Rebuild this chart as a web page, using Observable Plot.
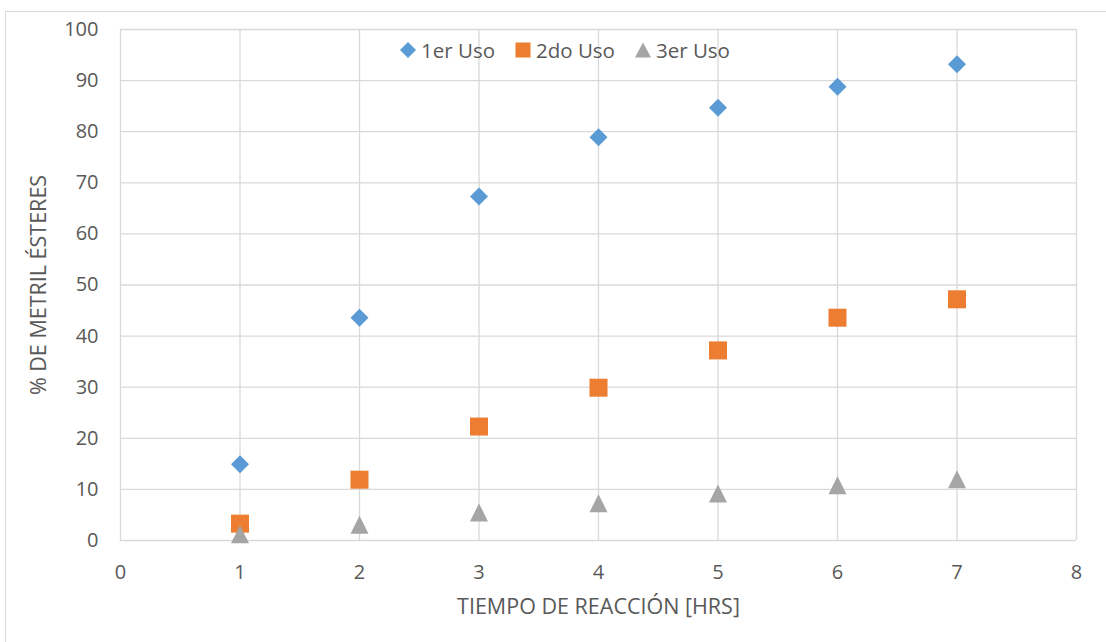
<!DOCTYPE html>
<html><head><meta charset="utf-8">
<script src="https://cdn.jsdelivr.net/npm/d3@7"></script>
<script src="https://cdn.jsdelivr.net/npm/@observablehq/plot@0.6"></script>
<style>
html,body{margin:0;padding:0;background:#fff;}
#wrap{position:relative;width:1106px;height:642px;overflow:hidden;font-family:"Open Sans",sans-serif;}
#border{position:absolute;left:5px;top:11px;width:1120px;height:660px;border:1px solid #d9d9d9;box-sizing:border-box;}
#legend{position:absolute;top:36px;left:400px;display:flex;align-items:center;font-size:20.5px;color:#595959;line-height:28px;}
#legend .item{display:flex;align-items:center;margin-right:20px;}
#legend svg{margin-right:5px;display:block;}
</style></head>
<body><div id="wrap"><div id="border"></div><div id="chart"></div><div id="legend"></div></div>
<script>
const hours = [1, 2, 3, 4, 5, 6, 7];
const uso1 = [14.9, 43.6, 67.3, 78.9, 84.7, 88.8, 93.2];
const uso2 = [3.3, 11.9, 22.3, 29.9, 37.2, 43.6, 47.2];
const uso3 = [1.2, 3.1, 5.5, 7.3, 9.2, 10.8, 12.0];
const seriesNames = ["1er Uso", "2do Uso", "3er Uso"];
const seriesColors = ["#5b9bd5", "#ed7d31", "#a5a5a5"];
const xTicks = [0, 1, 2, 3, 4, 5, 6, 7, 8];
const yTicks = [0, 10, 20, 30, 40, 50, 60, 70, 80, 90, 100];
const xTitle = "TIEMPO DE REACCIÓN [HRS]";
const yTitle = "% DE METRIL ÉSTERES";

const diamond = {draw(c, size){const r=Math.sqrt(size/Math.PI); c.moveTo(0,-r); c.lineTo(r,0); c.lineTo(0,r); c.lineTo(-r,0); c.closePath();}};
const square = {draw(c, size){const r=Math.sqrt(size/Math.PI); c.rect(-r,-r,2*r,2*r);}};
const triangle = {draw(c, size){const r=Math.sqrt(size/Math.PI); c.moveTo(0,-r); c.lineTo(r,r); c.lineTo(-r,r); c.closePath();}};
const symbols = [diamond, square, triangle];

const data = [];
[uso1, uso2, uso3].forEach((vals, s) => vals.forEach((v, i) => data.push({x: hours[i], y: v, s})));

const chart = Plot.plot({
  width: 1106, height: 642,
  marginLeft: 120, marginRight: 30, marginTop: 29, marginBottom: 102,
  style: {fontFamily: "Open Sans", fontSize: "20px", color: "#595959", background: "transparent"},
  x: {domain: [0, 8]},
  y: {domain: [0, 100]},
  marks: [
    Plot.ruleX(xTicks, {stroke: "#d9d9d9", strokeWidth: 1.3}),
    Plot.ruleY(yTicks, {stroke: "#d9d9d9", strokeWidth: 1.3}),
    Plot.axisX({ticks: xTicks, tickSize: 0, tickPadding: 24, fontSize: 20, label: null}),
    Plot.axisY({ticks: yTicks, tickSize: 0, tickPadding: 22, fontSize: 20, label: null}),
    Plot.text([xTitle], {text: d => d, frameAnchor: "bottom", dy: 67, lineAnchor: "middle", textAnchor: "middle", fontSize: 21.5, fill: "#595959"}),
    Plot.text([yTitle], {text: d => d, frameAnchor: "left", dx: -81, rotate: -90, lineAnchor: "middle", textAnchor: "middle", fontSize: 21.5, fill: "#595959"}),
    Plot.dot(data, {x: "x", y: "y", r: 9, fill: d => seriesColors[d.s], symbol: d => symbols[d.s], stroke: null})
  ]
});
document.getElementById("chart").appendChild(chart);

const legend = document.getElementById("legend");
const paths = ["M8,0L16,8L8,16L0,8Z", "M0.5,0.5H15.5V15.5H0.5Z", "M8,0.5L16,15.5L0,15.5Z"];
seriesNames.forEach((n, i) => {
  const it = document.createElement("div");
  it.className = "item";
  it.innerHTML = `<svg width="16" height="16"><path d="${paths[i]}" fill="${seriesColors[i]}"/></svg><span>${n}</span>`;
  legend.appendChild(it);
});
</script></body></html>
